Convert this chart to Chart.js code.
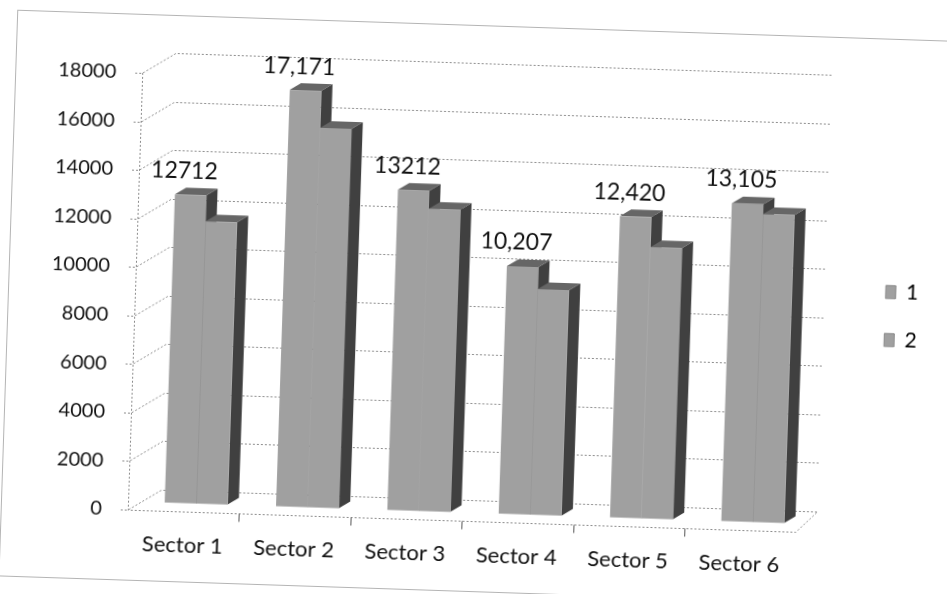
<!DOCTYPE html>
<html>
<head>
<meta charset="utf-8">
<script src="https://cdn.jsdelivr.net/npm/chart.js@4"></script>
<style>
html,body{margin:0;padding:0;background:#ffffff;overflow:hidden;}
#wrap{width:947px;height:594px;transform:rotate(1.9deg);transform-origin:473.5px 297px;}
canvas{display:block;}
</style>
</head>
<body>
<div id="wrap"><canvas id="c" width="947" height="594"></canvas></div>
<script>
// ---- data ----
const categories = ['Sector 1', 'Sector 2', 'Sector 3', 'Sector 4', 'Sector 5', 'Sector 6'];
const seriesNames = ['1', '2'];
const series1 = [12712, 17171, 13212, 10207, 12420, 13105];
const series2 = [11640, 15650, 12470, 9300, 11190, 12700];
const series1Labels = ['12712', '17,171', '13212', '10,207', '12,420', '13,105'];
const yTickValues = [0, 2000, 4000, 6000, 8000, 10000, 12000, 14000, 16000, 18000];

// ---- style ----
const DEPTH_L = {x: 33, y: -21};
const DEPTH_R = {x: 21, y: -21};
const FRONT = {x: 12.5, y: -8};
const BAR_D = {x: 11, y: -7};
const COLORS = {front: '#a0a0a0', top: '#666666', side: '#404040', grid: '#8c8c8c', text: '#111111'};
const FONT = 'Lato';

function poly(ctx, pts, fill) {
  ctx.beginPath();
  ctx.moveTo(pts[0][0], pts[0][1]);
  for (let i = 1; i < pts.length; i++) ctx.lineTo(pts[i][0], pts[i][1]);
  ctx.closePath();
  ctx.fillStyle = fill;
  ctx.fill();
}

const scene3d = {
  id: 'scene3d',
  beforeDraw(chart) {
    const ctx = chart.ctx;
    ctx.save();
    ctx.strokeStyle = '#b4b4b4';
    ctx.lineWidth = 1;
    ctx.strokeRect(8.5, 25.5, 960, 566);
    ctx.restore();
  },
  beforeDatasetsDraw(chart) {
    const {ctx, chartArea: a, scales: {x, y}} = chart;
    ctx.save();
    ctx.strokeStyle = COLORS.grid;
    ctx.lineWidth = 1;
    ctx.setLineDash([2, 2]);
    yTickValues.forEach(v => {
      const py = Math.round(y.getPixelForValue(v)) + 0.5;
      ctx.beginPath();
      ctx.moveTo(a.left - 7, py);
      ctx.lineTo(a.left, py);
      ctx.lineTo(a.left + DEPTH_L.x, py + DEPTH_L.y);
      ctx.lineTo(a.right + DEPTH_R.x, py + DEPTH_R.y);
      ctx.stroke();
    });
    const y0 = Math.round(y.getPixelForValue(0)) + 0.5;
    const yTop = y.getPixelForValue(yTickValues[yTickValues.length - 1]);
    ctx.beginPath();
    ctx.moveTo(a.left + 0.5, yTop);
    ctx.lineTo(a.left + 0.5, y0);
    ctx.lineTo(a.right, y0);
    ctx.lineTo(a.right + DEPTH_R.x, y0 + DEPTH_R.y);
    ctx.stroke();
    ctx.setLineDash([]);
    ctx.strokeStyle = '#555';
    const n = categories.length;
    const step = (x.getPixelForValue(1) - x.getPixelForValue(0));
    for (let i = 1; i < n; i++) {
      const bx = Math.round(x.getPixelForValue(i) - step / 2) + 0.5;
      ctx.beginPath();
      ctx.moveTo(bx, y0);
      ctx.lineTo(bx, y0 + 8);
      ctx.stroke();
    }
    ctx.restore();
  },
  afterDatasetsDraw(chart) {
    const ctx = chart.ctx;
    ctx.save();
    const metas = [chart.getDatasetMeta(0), chart.getDatasetMeta(1)];
    for (let i = 0; i < categories.length; i++) {
      metas.forEach(meta => {
        const el = meta.data[i];
        const p = el.getProps(['x', 'y', 'base', 'width'], true);
        const l = p.x - p.width / 2 + FRONT.x, r = p.x + p.width / 2 + FRONT.x;
        const t = p.y + FRONT.y, b = p.base + FRONT.y;
        poly(ctx, [[r, t], [r + BAR_D.x, t + BAR_D.y], [r + BAR_D.x, b + BAR_D.y], [r, b]], COLORS.side);
        poly(ctx, [[l, t], [r, t], [r + BAR_D.x, t + BAR_D.y], [l + BAR_D.x, t + BAR_D.y]], COLORS.top);
        ctx.fillStyle = COLORS.front;
        ctx.fillRect(l, t, r - l, b - t);
      });
    }
    // value labels for series 1
    ctx.fillStyle = COLORS.text;
    ctx.font = '23px ' + FONT;
    ctx.textAlign = 'center';
    ctx.textBaseline = 'middle';
    metas[0].data.forEach((el, i) => {
      const p = el.getProps(['x', 'y'], true);
      ctx.fillText(series1Labels[i], p.x + FRONT.x - 7, p.y + FRONT.y - 24);
    });
    ctx.restore();
  }
};

new Chart(document.getElementById('c'), {
  type: 'bar',
  data: {
    labels: categories,
    datasets: [
      {label: seriesNames[0], data: series1, backgroundColor: 'rgba(0,0,0,0)', borderWidth: 0},
      {label: seriesNames[1], data: series2, backgroundColor: 'rgba(0,0,0,0)', borderWidth: 0}
    ]
  },
  options: {
    responsive: false,
    animation: false,
    layout: {padding: {left: 0, right: 19, top: 84, bottom: 5}},
    datasets: {bar: {categoryPercentage: 0.566, barPercentage: 1}},
    scales: {
      x: {
        grid: {display: false, drawTicks: false},
        border: {display: false},
        ticks: {padding: 21, font: {family: FONT, size: 22}, color: COLORS.text, maxRotation: 0, autoSkip: false}
      },
      y: {
        min: 0, max: 18000,
        afterBuildTicks: s => { s.ticks = yTickValues.map(v => ({value: v})); },
        afterFit: s => { s.width = 135; },
        grid: {display: false, drawTicks: false},
        border: {display: false},
        ticks: {padding: 26, font: {family: FONT, size: 20}, color: COLORS.text, callback: v => String(v)}
      },
      y2: {
        position: 'right',
        grid: {display: false, drawTicks: false},
        border: {display: false},
        ticks: {display: false},
        afterFit: s => { s.width = 55; }
      }
    },
    plugins: {
      legend: {
        position: 'right',
        fullSize: false,
        labels: {
          boxWidth: 10, boxHeight: 13, padding: 27,
          font: {family: FONT, size: 21}, color: COLORS.text,
          generateLabels: () => seriesNames.map((n, i) => ({
            text: n, fillStyle: COLORS.front, strokeStyle: '#8a8a8a', lineWidth: 1, datasetIndex: i, hidden: false
          }))
        }
      },
      tooltip: {enabled: false}
    }
  },
  plugins: [scene3d]
});
</script>
</body>
</html>
